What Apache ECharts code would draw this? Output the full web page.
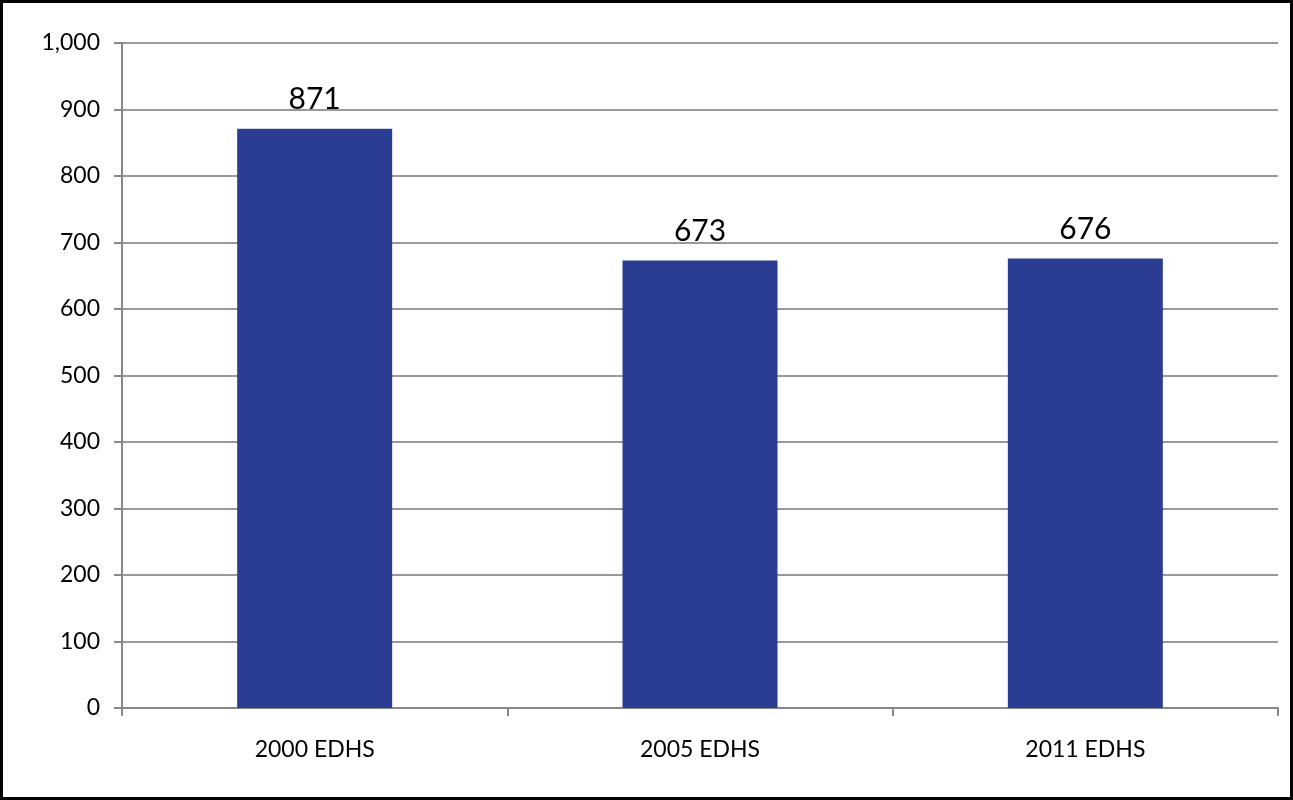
<!DOCTYPE html>
<html>
<head>
<meta charset="utf-8">
<script src="https://cdn.jsdelivr.net/npm/echarts@6/dist/echarts.min.js"></script>
<style>
  html, body { margin: 0; padding: 0; background: #fff; }
  #chart { width: 1287px; height: 794px; border: 3px solid #000; }
</style>
</head>
<body>
<div id="chart"></div>
<script>
const categories = ['2000 EDHS', '2005 EDHS', '2011 EDHS'];
const values = [871, 673, 676];
const yTicks = { min: 0, max: 1000, interval: 100 };

const chart = echarts.init(document.getElementById('chart'));
chart.setOption({
  animation: false,
  grid: { left: 119, right: 12, top: 40, bottom: 89 },
  xAxis: {
    type: 'category',
    data: categories,
    axisLine: { lineStyle: { color: '#888', width: 2 } },
    axisTick: { show: true, length: 8, lineStyle: { color: '#888', width: 2 } },
    axisLabel: { color: '#000', fontSize: 23, fontFamily: 'Lato', margin: 30 }
  },
  yAxis: {
    type: 'value',
    min: yTicks.min, max: yTicks.max, interval: yTicks.interval,
    axisLine: { show: true, lineStyle: { color: '#888', width: 2 } },
    axisTick: { show: true, length: 8, lineStyle: { color: '#888', width: 2 } },
    splitLine: { lineStyle: { color: '#999', width: 2 } },
    axisLabel: { color: '#000', fontSize: 23, fontFamily: 'Lato', margin: 22 }
  },
  series: [{
    type: 'bar',
    data: values,
    barWidth: 155,
    itemStyle: { color: '#2a3d92' },
    label: { show: true, position: 'top', distance: 14, color: '#000', fontSize: 30, fontFamily: 'Lato' }
  }]
});
</script>
</body>
</html>
